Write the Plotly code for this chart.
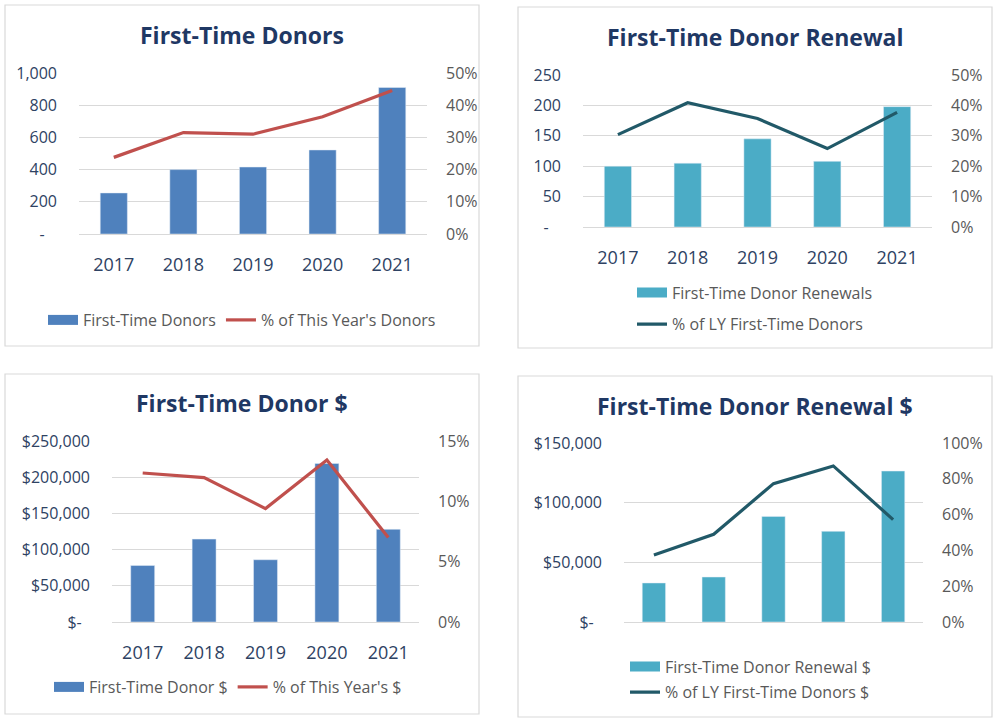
import plotly.graph_objects as go

# ---------------- data ----------------
years = ["2017", "2018", "2019", "2020", "2021"]

ft_donors = [255, 400, 416, 522, 910]
ft_donors_pct = [0.238, 0.315, 0.310, 0.364, 0.446]

ft_renewals = [100, 105, 145, 108, 198]
ft_renewals_pct = [0.304, 0.409, 0.357, 0.258, 0.377]

ft_dollars = [78000, 114500, 86000, 219000, 128000]
ft_dollars_pct = [0.1235, 0.1197, 0.094, 0.1343, 0.070]

ft_renewal_dollars = [32700, 37700, 88500, 76000, 126500]
ft_renewal_dollars_pct = [0.374, 0.490, 0.773, 0.872, 0.572]

titles = ["First-Time Donors", "First-Time Donor Renewal",
          "First-Time Donor $", "First-Time Donor Renewal $"]
bar_names = ["First-Time Donors", "First-Time Donor Renewals",
             "First-Time Donor $", "First-Time Donor Renewal $"]
line_names = ["% of This Year's Donors", "% of LY First-Time Donors",
              "% of This Year's $", "% of LY First-Time Donors $"]

NB = "\u00a0"
left_ticks_1 = [0, 200, 400, 600, 800, 1000]
left_text_1 = ["-" + NB * 3, "200", "400", "600", "800", "1,000"]
left_ticks_2 = [0, 50, 100, 150, 200, 250]
left_text_2 = ["-" + NB * 3, "50", "100", "150", "200", "250"]
left_ticks_3 = [0, 50000, 100000, 150000, 200000, 250000]
left_text_3 = ["$-" + NB * 2, "$50,000", "$100,000", "$150,000", "$200,000", "$250,000"]
left_ticks_4 = [0, 50000, 100000, 150000]
left_text_4 = ["$-" + NB * 2, "$50,000", "$100,000", "$150,000"]

right_ticks_1 = [0, 0.1, 0.2, 0.3, 0.4, 0.5]
right_ticks_2 = [0, 0.1, 0.2, 0.3, 0.4, 0.5]
right_ticks_3 = [0, 0.05, 0.10, 0.15]
right_ticks_4 = [0, 0.2, 0.4, 0.6, 0.8, 1.0]

# ---------------- style ----------------
W, H = 1000, 723
FONT = "Open Sans"
NAVY = "#1F3864"
TICK_NAVY = "#2E4263"
GRAY = "#595959"
GRID = "#D9D9D9"
BLUE = "#4F81BD"
TEAL = "#4BACC6"
RED = "#C0504D"
DTEAL = "#215968"


def px(x):
    return x / W


def py(y):
    return 1 - y / H


panels = [
    dict(bars=ft_donors, pct=ft_donors_pct, bar_color=BLUE, line_color=RED,
         xdom=(79, 427), ydom=(234, 73), yr=1000, y2r=0.5,
         lt=left_ticks_1, ltt=left_text_1, rt=right_ticks_1, showx=True,
         box=(5, 5, 479, 346), title_xy=(242, 35)),
    dict(bars=ft_renewals, pct=ft_renewals_pct, bar_color=TEAL, line_color=DTEAL,
         xdom=(583, 932), ydom=(227, 75), yr=250, y2r=0.5,
         lt=left_ticks_2, ltt=left_text_2, rt=right_ticks_2, showx=True,
         box=(518, 7, 992, 348), title_xy=(755, 37)),
    dict(bars=ft_dollars, pct=ft_dollars_pct, bar_color=BLUE, line_color=RED,
         xdom=(112, 419), ydom=(622, 441), yr=250000, y2r=0.15,
         lt=left_ticks_3, ltt=left_text_3, rt=right_ticks_3, showx=True,
         box=(5, 374, 479, 714), title_xy=(242, 403)),
    dict(bars=ft_renewal_dollars, pct=ft_renewal_dollars_pct, bar_color=TEAL, line_color=DTEAL,
         xdom=(624, 923), ydom=(622, 443), yr=150000, y2r=1.0,
         lt=left_ticks_4, ltt=left_text_4, rt=right_ticks_4, showx=False,
         box=(518, 376, 992, 717), title_xy=(755, 406)),
]

legend_cfg = [
    dict(orientation="h", x=px(242), xanchor="center", y=py(320), yanchor="middle"),
    dict(orientation="v", x=px(632), xanchor="left", y=py(308.5), yanchor="middle",
         traceorder="grouped", tracegroupgap=8),
    dict(orientation="h", x=px(228), xanchor="center", y=py(687), yanchor="middle"),
    dict(orientation="v", x=px(625), xanchor="left", y=py(679.5), yanchor="middle",
         traceorder="grouped", tracegroupgap=2),
]

fig = go.Figure()
layout = dict(width=W, height=H,
              margin=dict(l=0, r=0, t=0, b=0, pad=0, autoexpand=False),
              paper_bgcolor="white", plot_bgcolor="white",
              font=dict(family=FONT, color=GRAY), showlegend=True)
shapes = []
annotations = []

for i, p in enumerate(panels):
    n = i + 1
    xa = "x" if n == 1 else f"x{n}"
    ya = "y" if n == 1 else f"y{n}"
    ya2 = f"y{n + 4}"
    leg = "legend" if n == 1 else f"legend{n}"

    # bars (legend entry drawn by a wide swatch proxy below, like Excel's)
    fig.add_trace(go.Bar(x=years, y=p["bars"], name=bar_names[i], marker_color=p["bar_color"],
                         width=0.39, xaxis=xa, yaxis=ya, showlegend=False,
                         legendgroup=f"b{n}"))
    fig.add_trace(go.Scatter(x=[None], y=[None], name=bar_names[i], mode="lines",
                             line=dict(color=p["bar_color"], width=10),
                             xaxis=xa, yaxis=ya, legend=leg, legendgroup=f"b{n}",
                             hoverinfo="skip"))
    fig.add_trace(go.Scatter(x=years, y=p["pct"], name=line_names[i], mode="lines",
                             line=dict(color=p["line_color"], width=3.2),
                             xaxis=xa, yaxis=ya2, legend=leg, legendgroup=f"l{n}"))

    xkey = "xaxis" if n == 1 else f"xaxis{n}"
    ykey = "yaxis" if n == 1 else f"yaxis{n}"
    y2key = f"yaxis{n + 4}"

    layout[xkey] = dict(domain=[px(p["xdom"][0]), px(p["xdom"][1])], anchor=ya,
                        type="category", categoryorder="array", categoryarray=years,
                        showgrid=False, zeroline=False,
                        showline=True, linecolor=GRID, linewidth=1, ticks="",
                        showticklabels=p["showx"], ticklabelstandoff=14,
                        tickfont=dict(family=FONT, size=18, color=TICK_NAVY),
                        automargin=False, fixedrange=True)
    layout[ykey] = dict(domain=[py(p["ydom"][0]), py(p["ydom"][1])], anchor=xa,
                        range=[0, p["yr"] * 1.0001], tickmode="array",
                        tickvals=p["lt"], ticktext=p["ltt"], showgrid=True,
                        gridcolor=GRID, gridwidth=1, zeroline=False, showline=False,
                        ticks="", ticklabelstandoff=21,
                        tickfont=dict(family=FONT, size=16, color=TICK_NAVY),
                        automargin=False, fixedrange=True)
    layout[y2key] = dict(overlaying=ya, side="right", anchor=xa,
                         range=[0, p["y2r"] * 1.0001], tickmode="array",
                         tickvals=p["rt"], tickformat=".0%", showgrid=False,
                         zeroline=False, showline=False, ticks="",
                         ticklabelstandoff=18,
                         tickfont=dict(family=FONT, size=16, color=GRAY),
                         automargin=False, fixedrange=True)

    lc = dict(font=dict(family=FONT, size=16, color=GRAY), bgcolor="rgba(0,0,0,0)",
              itemwidth=30, itemclick=False, itemdoubleclick=False)
    lc.update(legend_cfg[i])
    layout[leg] = lc

    x0, y0, x1, y1 = p["box"]
    shapes.append(dict(type="rect", xref="paper", yref="paper",
                       x0=px(x0), x1=px(x1), y0=py(y1), y1=py(y0),
                       line=dict(color=GRID, width=1.2), fillcolor="rgba(0,0,0,0)",
                       layer="below"))
    tx, ty = p["title_xy"]
    annotations.append(dict(text=f"<b>{titles[i]}</b>", xref="paper", yref="paper",
                            x=px(tx), y=py(ty), xanchor="center", yanchor="middle",
                            showarrow=False,
                            font=dict(family=FONT, size=23, color=NAVY)))

layout["shapes"] = shapes
layout["annotations"] = annotations
fig.update_layout(**layout)

fig.write_html("out.html", config={"displayModeBar": False},
               post_script="document.body.style.margin='0';")
